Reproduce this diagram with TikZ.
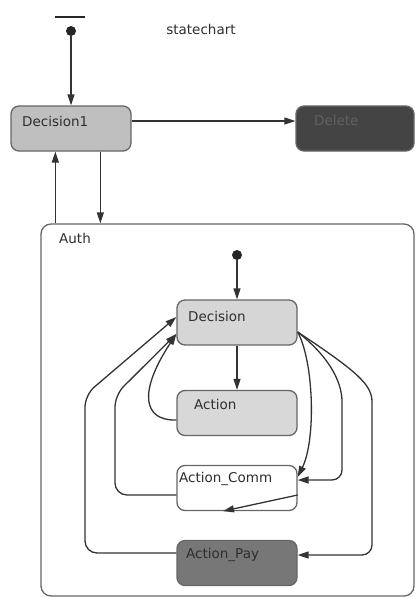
\documentclass[tikz,border=0pt]{standalone}
\usepackage{fontspec}
\setmainfont{DejaVu Sans}
\usetikzlibrary{arrows.meta}
\definecolor{bordergray}{HTML}{666666}
\definecolor{linegray}{HTML}{333333}
\definecolor{txt}{HTML}{2E2E2E}
\definecolor{deconec}{HTML}{BFBFBF}
\definecolor{decc}{HTML}{D6D6D6}
\definecolor{delc}{HTML}{444444}
\definecolor{payc}{HTML}{777777}
\begin{document}
\begin{tikzpicture}[x=1pt,y=-1pt,
  state/.style={draw=bordergray, line width=1.3pt, rounded corners=8pt, minimum width=120pt, minimum height=45pt, inner sep=0pt},
  lbl/.style={anchor=west, font=\fontsize{13.5}{15}\selectfont, inner sep=0pt, text=txt},
  tr/.style={draw=linegray, line width=1.3pt, -{Triangle[length=11pt,width=7pt]}},
  dot/.style={circle, fill=black!85, inner sep=0pt, minimum size=10pt}]
\useasboundingbox (0,0) rectangle (415,597);
% title
\node[lbl, anchor=center] (title) at (201,29) {statechart};
% top initial
\draw[line width=2.5pt, black!85] (55,17) -- (85,17);
\node[dot] (init1) at (71,31) {};
% outer states
\node[state, fill=deconec] (dec1) at (71,128.5) {};
\node[lbl] (dec1t) at (22,121) {Decision1};
\node[state, fill=delc, minimum width=118pt] (del) at (355,128.5) {};
\node[lbl, text=black!62] (delt) at (314,120) {Delete};
% Auth
\node[state, rounded corners=10pt, minimum width=373pt, minimum height=372pt] (auth) at (227.5,410) {};
\node[lbl] (autht) at (59,238) {Auth};
% inner
\node[dot] (init2) at (237,255) {};
\node[state, fill=decc] (dec) at (237,322.5) {};
\node[lbl] (dect) at (188,316) {Decision};
\node[state, fill=decc!95!white] (act) at (237,413) {};
\node[lbl] (actt) at (194,404) {Action};
\node[state, fill=white] (comm) at (237,488) {};
\node[lbl] (commt) at (179,479) {Action\_Comm};
\node[state, fill=payc] (pay) at (237,563) {};
\node[lbl] (payt) at (186,555) {Action\_Pay};
% outer connectors
\draw[tr] (init1) -- (init1 |- dec1.north);
\draw[tr] ([yshift=7.5pt]dec1.east) -- ([yshift=7.5pt]del.west);
\draw[tr] ([xshift=90pt]dec1.south west) -- ([xshift=90pt]dec1.south west |- auth.north);
\draw[tr] ([xshift=15pt]auth.north west) -- ([xshift=15pt]auth.north west |- dec1.south);
% inner connectors
\draw[tr] (init2) -- (dec.north);
\draw[tr] (dec.south) -- (act.north);
\draw[tr] ([yshift=-7pt]act.west) .. controls (143,421) and (138,392) .. ([yshift=-11.5pt]dec.west);
\draw[tr, rounded corners=12pt] ([yshift=-7pt]comm.west) -- (115,495) -- (115,395) -- ([yshift=-11.5pt]dec.west);
\draw[tr, rounded corners=12pt] ([yshift=10pt]pay.west) -- (85,553) -- (85,395) -- ([yshift=5.5pt]dec.west);
\coordinate (dr) at ([yshift=-9.5pt]dec.east);
\draw[tr] (dr) .. controls (314,362) and (316,440) .. ([yshift=11pt]comm.east);
\draw[tr, rounded corners=10pt] (dr) .. controls (333,360) and (342,385) .. (342,412) -- (342,480) -- ([yshift=8pt]comm.east);
\draw[tr, rounded corners=10pt] (dr) .. controls (358,372) and (372,385) .. (372,412) -- (372,555) -- ([yshift=8pt]pay.east);
\draw[tr] ([yshift=-7pt]comm.east) -- ([xshift=-14pt]comm.south);
\end{tikzpicture}
\end{document}
